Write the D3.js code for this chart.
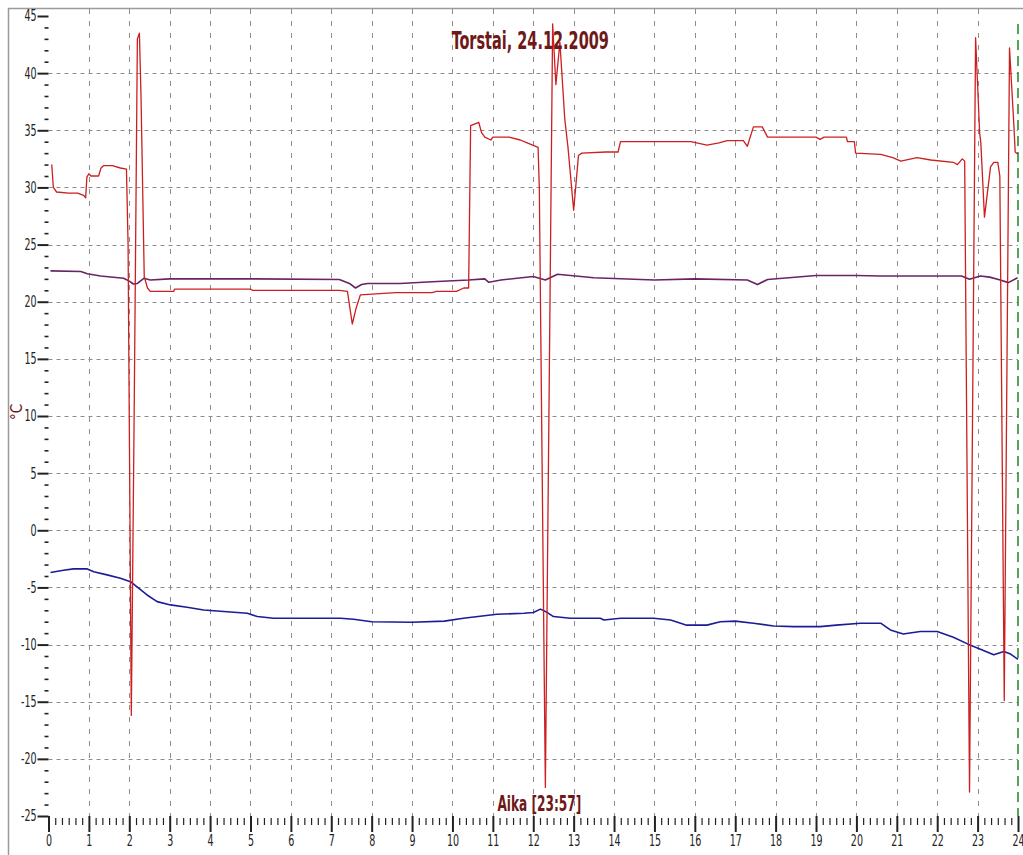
<!DOCTYPE html>
<html>
<head>
<meta charset="utf-8">
<script src="https://cdn.jsdelivr.net/npm/d3@7"></script>
<style>
  html, body { margin: 0; padding: 0; background: #fff; }
  svg { display: block; }
  text { font-family: "Liberation Sans Narrow", "Arial Narrow", "DejaVu Sans Condensed", sans-serif; }
</style>
</head>
<body>
<svg id="chart" width="1023" height="855"></svg>
<script>
// hour of day, degrees C
const redSeries = [
  [0.08,32.0],[0.12,30.0],[0.2,29.6],[0.5,29.5],[0.72,29.5],[0.87,29.3],[0.92,29.1],[0.95,30.9],
  [1.0,31.2],[1.05,31.0],[1.24,31.0],[1.3,31.7],[1.36,31.9],[1.58,31.9],[1.78,31.7],[1.93,31.6],
  [1.97,25],[2.05,-16.2],[2.12,10],[2.2,43.0],[2.25,43.5],[2.29,38],[2.37,22.2],[2.45,21.2],
  [2.52,20.9],[3.1,20.9],[3.12,21.1],[4.0,21.1],[5.0,21.1],[5.05,21.0],[7.2,21.0],[7.4,20.9],
  [7.52,18.05],[7.62,19.5],[7.72,20.6],[8.2,20.7],[8.6,20.8],[9.5,20.8],[9.6,20.9],[10.1,20.9],
  [10.28,21.2],[10.4,21.2],[10.45,35.4],[10.65,35.7],[10.72,34.8],[10.8,34.4],[10.95,34.15],
  [11.0,34.4],[11.4,34.4],[11.68,34.15],[11.85,33.9],[12.12,33.5],[12.15,30],[12.3,-22.5],
  [12.48,44.3],[12.56,39],[12.66,42.7],[12.78,36],[12.86,33.5],[13.0,28.0],[13.12,32.8],
  [13.2,33.0],[13.8,33.1],[14.1,33.1],[14.16,34.0],[15.0,34.0],[15.9,34.0],[16.3,33.7],
  [16.6,33.9],[16.8,34.1],[17.2,34.1],[17.3,33.6],[17.45,35.3],[17.67,35.3],[17.8,34.4],
  [19.0,34.4],[19.1,34.2],[19.2,34.4],[19.75,34.4],[19.78,34.0],[19.95,34.0],[19.98,33.0],
  [20.6,32.9],[20.9,32.6],[21.1,32.3],[21.5,32.6],[21.84,32.4],[22.4,32.2],[22.5,32.0],
  [22.62,32.5],[22.68,32.3],[22.8,-22.9],[22.95,43.1],[23.05,34.8],[23.08,33.9],[23.17,27.4],
  [23.32,31.8],[23.4,32.2],[23.5,32.2],[23.55,31],[23.66,-14.9],[23.79,42.2],[23.9,35.3],
  [23.93,33.1],[24.0,32.9]
];
const purpleSeries = [
  [0.05,22.7],[0.8,22.65],[0.96,22.45],[1.29,22.25],[1.86,22.05],[2.0,21.8],[2.1,21.55],[2.2,21.6],
  [2.36,22.05],[2.52,21.9],[3.0,22.0],[5.0,22.0],[7.2,21.95],[7.45,21.6],[7.6,21.2],[7.75,21.5],
  [7.9,21.6],[8.7,21.6],[9.5,21.75],[10.4,21.9],[10.8,22.0],[10.9,21.7],[11.2,21.9],[12.0,22.2],
  [12.3,21.9],[12.6,22.4],[13.5,22.1],[15.0,21.9],[16.0,22.0],[17.3,21.9],[17.55,21.5],
  [17.8,21.95],[19.0,22.3],[20.0,22.3],[20.6,22.25],[22.6,22.25],[22.8,21.96],[23.07,22.25],
  [23.3,22.15],[23.56,21.9],[23.76,21.67],[23.99,22.1]
];
const blueSeries = [
  [0.05,-3.7],[0.37,-3.5],[0.62,-3.38],[0.96,-3.38],[1.12,-3.62],[1.45,-3.9],[1.78,-4.2],
  [2.03,-4.5],[2.23,-5.07],[2.44,-5.66],[2.69,-6.24],[3.02,-6.53],[3.43,-6.73],[3.84,-6.97],
  [4.34,-7.1],[4.92,-7.26],[5.17,-7.55],[5.57,-7.7],[7.23,-7.7],[7.55,-7.78],[8.0,-8.0],
  [9.0,-8.05],[9.8,-7.95],[10.27,-7.7],[11.1,-7.35],[11.77,-7.26],[12.0,-7.2],[12.18,-6.9],
  [12.35,-7.2],[12.5,-7.55],[12.92,-7.7],[13.66,-7.7],[13.75,-7.85],[14.16,-7.7],[14.98,-7.7],
  [15.4,-7.85],[15.8,-8.3],[16.3,-8.3],[16.63,-8.0],[17.0,-7.95],[17.45,-8.13],[17.95,-8.37],
  [18.45,-8.43],[19.1,-8.43],[19.5,-8.3],[20.1,-8.13],[20.6,-8.13],[20.84,-8.72],[21.16,-9.07],
  [21.58,-8.86],[22.0,-8.86],[22.4,-9.36],[22.75,-9.94],[23.07,-10.4],[23.4,-10.9],[23.65,-10.6],
  [23.8,-10.8],[24.0,-11.3]
];
const yMajor = d3.range(-25, 46, 5);
const yMinor = d3.range(-25, 46, 1).filter(v => v % 5 !== 0);
const xMajor = d3.range(0, 25, 1);
const xMinor = d3.range(0, 24 * 6 + 1).map(i => i / 6).filter((v, i) => i % 6 !== 0);
const titleText = "Torstai, 24.12.2009";
const timeText = "Aika [23:57]";
const unitText = "°C";
const cursorHour = 24;

const textColor = "#6e1818";
const svg = d3.select("#chart");
const x = d3.scaleLinear().domain([0, 24]).range([48.5, 1018]);
const y = d3.scaleLinear().domain([-25, 45]).range([816, 16]);

// frame
svg.append("path").attr("d", "M8.5,855V8.5H1023").attr("fill", "none").attr("stroke", "#9a9a9a").attr("stroke-width", 1.5);

// grid
svg.append("g").selectAll("line").data(xMajor.filter(h => h > 0 && h < 24)).join("line")
    .attr("x1", d => Math.round(x(d)) + 0.5).attr("x2", d => Math.round(x(d)) + 0.5)
    .attr("y1", 9).attr("y2", y(-25))
    .attr("stroke", "#8c8c8c").attr("stroke-width", 1).attr("stroke-dasharray", "5,7");
svg.append("g").selectAll("line").data(yMajor.filter(v => v > -25 && v < 45)).join("line")
    .attr("x1", x(0)).attr("x2", x(24))
    .attr("y1", d => Math.round(y(d)) + 0.5).attr("y2", d => Math.round(y(d)) + 0.5)
    .attr("stroke", "#8c8c8c").attr("stroke-width", 1).attr("stroke-dasharray", "4,4");

// axes
const tickStyle = g => {
  g.select(".domain").remove();
  g.selectAll("line").attr("stroke", "#222");
};
const gyMin = svg.append("g").attr("transform", `translate(${x(0)},0)`)
  .call(d3.axisLeft(y).tickValues(yMinor).tickSize(4).tickFormat(""));
gyMin.call(tickStyle);
gyMin.selectAll("line").attr("stroke-width", 1.6);
const gyMaj = svg.append("g").attr("transform", `translate(${x(0)},0)`)
  .call(d3.axisLeft(y).tickValues(yMajor).tickSize(11).tickPadding(2).tickFormat(d => String(d)));
gyMaj.call(tickStyle);
gyMaj.selectAll("line").attr("stroke-width", 2);
gyMaj.selectAll("text").attr("font-size", 11.5).attr("fill", "#222").attr("transform", "scale(0.92,1.35)");

const gxMin = svg.append("g").attr("transform", `translate(0,${y(-25) + 2})`)
  .call(d3.axisBottom(x).tickValues(xMinor).tickSize(7).tickFormat(""));
gxMin.call(tickStyle);
gxMin.selectAll("line").attr("stroke-width", 1.2);
const gxMaj = svg.append("g").attr("transform", `translate(0,${y(-25)})`)
  .call(d3.axisBottom(x).tickValues(xMajor).tickSize(16).tickPadding(3).tickFormat(d => String(d)));
gxMaj.call(tickStyle);
gxMaj.selectAll("line").attr("stroke-width", 2);
gxMaj.selectAll("text").attr("font-size", 11.5).attr("fill", "#222")
  .attr("y", 19 / 1.35).attr("transform", "scale(0.92,1.35)");

// cursor line
svg.append("line")
    .attr("x1", x(cursorHour)).attr("x2", x(cursorHour)).attr("y1", 24).attr("y2", y(-25))
    .attr("stroke", "#1a8a1a").attr("stroke-width", 1.5).attr("stroke-dasharray", "10,6");

// series
const line = d3.line().x(d => x(d[0])).y(d => y(d[1]));
[[blueSeries, "#1c1c96", 1.6], [purpleSeries, "#6a2463", 1.6], [redSeries, "#cc1f1f", 1.3]].forEach(([data, col, w]) => {
  svg.append("path").datum(data).attr("d", line)
      .attr("fill", "none").attr("stroke", col).attr("stroke-width", w).attr("stroke-linejoin", "round");
});

// texts
svg.append("text").attr("transform", `translate(${x(12) - 3},49) scale(0.92,1.4)`)
    .attr("text-anchor", "middle").attr("font-size", 17.5).attr("font-weight", "bold")
    .attr("fill", textColor).text(titleText);
svg.append("text").attr("transform", `translate(${x(12.15)},811) scale(0.9,1.45)`)
    .attr("text-anchor", "middle").attr("font-size", 15).attr("font-weight", "bold")
    .attr("fill", textColor).text(timeText);
svg.append("text").attr("transform", "translate(22,412) rotate(-90)")
    .attr("text-anchor", "middle").attr("font-size", 15)
    .attr("fill", textColor).text(unitText);
</script>
</body>
</html>
